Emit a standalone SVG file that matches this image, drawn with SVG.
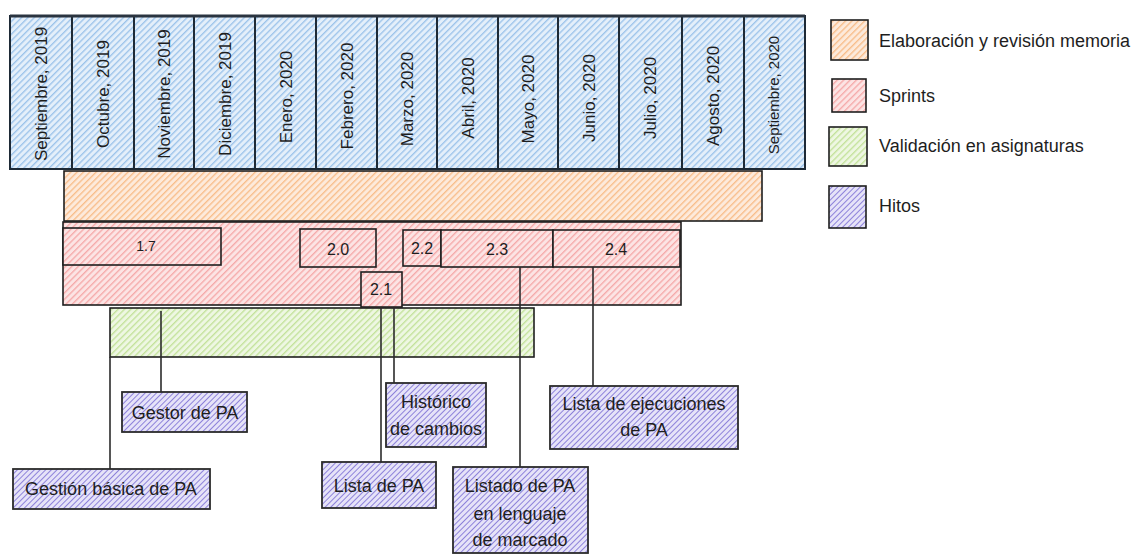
<svg xmlns="http://www.w3.org/2000/svg" width="1132" height="554" viewBox="0 0 1132 554">
  <defs>
    <!-- diagonal hachure fills, one per category, over a pale tint -->
    <pattern id="hBlue" patternUnits="userSpaceOnUse" width="4.5" height="4.5" patternTransform="rotate(45)">
      <rect width="4.5" height="4.5" fill="#e4effa"/>
      <line x1="0" y1="0" x2="0" y2="4.5" stroke="#9cc3ea" stroke-width="2.7"/>
    </pattern>
    <pattern id="hOrange" patternUnits="userSpaceOnUse" width="4.5" height="4.5" patternTransform="rotate(45)">
      <rect width="4.5" height="4.5" fill="#fdeadb"/>
      <line x1="0" y1="0" x2="0" y2="4.5" stroke="#f8bd8a" stroke-width="2.7"/>
    </pattern>
    <pattern id="hRed" patternUnits="userSpaceOnUse" width="4.5" height="4.5" patternTransform="rotate(45)">
      <rect width="4.5" height="4.5" fill="#fce4e4"/>
      <line x1="0" y1="0" x2="0" y2="4.5" stroke="#f5a9a9" stroke-width="2.7"/>
    </pattern>
    <pattern id="hGreen" patternUnits="userSpaceOnUse" width="4.5" height="4.5" patternTransform="rotate(45)">
      <rect width="4.5" height="4.5" fill="#eef7e2"/>
      <line x1="0" y1="0" x2="0" y2="4.5" stroke="#c3e29a" stroke-width="2.7"/>
    </pattern>
    <pattern id="hPurple" patternUnits="userSpaceOnUse" width="4" height="4" patternTransform="rotate(45)">
      <rect width="4" height="4" fill="#e6e3f8"/>
      <line x1="0" y1="0" x2="0" y2="4" stroke="#8d82da" stroke-width="2"/>
    </pattern>
  </defs>
  <style>
    text { font-family: "Liberation Sans", Arial, sans-serif; fill: #1e1e1e; }
    .box { stroke: #1e1e1e; stroke-width: 1.6; }
    .month { fill: url(#hBlue); stroke: #1e2a36; stroke-width: 2; }
    .memoria { fill: url(#hOrange); }
    .sprint { fill: url(#hRed); }
    .valid { fill: url(#hGreen); }
    .hito { fill: url(#hPurple); stroke: #2b2b2b; stroke-width: 1.8; }
    .mtxt { font-size: 17px; text-anchor: middle; }
    .num { font-size: 16px; text-anchor: middle; }
    .lbl { font-size: 18px; text-anchor: middle; }
    .leg { font-size: 18px; }
    .conn { stroke: #2b2b2b; stroke-width: 1.6; fill: none; }
  </style>

  <rect width="1132" height="554" fill="#ffffff"/>

  <!-- month columns -->
  <g id="months">
    <g id="m-sep19"><rect class="month" x="10" y="16" width="62" height="153"/><text class="mtxt" transform="translate(47,94) rotate(-90)">Septiembre, 2019</text></g>
    <g id="m-oct19"><rect class="month" x="72" y="16" width="62" height="153"/><text class="mtxt" transform="translate(109,94) rotate(-90)">Octubre, 2019</text></g>
    <g id="m-nov19"><rect class="month" x="134" y="16" width="60" height="153"/><text class="mtxt" transform="translate(170,94) rotate(-90)">Noviembre, 2019</text></g>
    <g id="m-dic19"><rect class="month" x="194" y="16" width="61" height="153"/><text class="mtxt" transform="translate(231,94) rotate(-90)">Diciembre, 2019</text></g>
    <g id="m-ene20"><rect class="month" x="255" y="16" width="61" height="153"/><text class="mtxt" transform="translate(292,97) rotate(-90)">Enero, 2020</text></g>
    <g id="m-feb20"><rect class="month" x="316" y="16" width="61" height="153"/><text class="mtxt" transform="translate(353,96) rotate(-90)">Febrero, 2020</text></g>
    <g id="m-mar20"><rect class="month" x="377" y="16" width="60" height="153"/><text class="mtxt" transform="translate(413,99) rotate(-90)">Marzo, 2020</text></g>
    <g id="m-abr20"><rect class="month" x="437" y="16" width="61" height="153"/><text class="mtxt" transform="translate(474,98) rotate(-90)">Abril, 2020</text></g>
    <g id="m-may20"><rect class="month" x="498" y="16" width="60" height="153"/><text class="mtxt" transform="translate(534,99) rotate(-90)">Mayo, 2020</text></g>
    <g id="m-jun20"><rect class="month" x="558" y="16" width="61" height="153"/><text class="mtxt" transform="translate(595,98) rotate(-90)">Junio, 2020</text></g>
    <g id="m-jul20"><rect class="month" x="619" y="16" width="63" height="153"/><text class="mtxt" transform="translate(656,98) rotate(-90)">Julio, 2020</text></g>
    <g id="m-ago20"><rect class="month" x="682" y="16" width="62" height="153"/><text class="mtxt" transform="translate(719,96) rotate(-90)">Agosto, 2020</text></g>
    <g id="m-sep20"><rect class="month" x="744" y="16" width="61" height="153"/><text class="mtxt" style="font-size:15px" transform="translate(779,95) rotate(-90)">Septiembre, 2020</text></g>
    <!-- heavier top edge across all columns -->
    <line x1="10" y1="16" x2="805" y2="16" stroke="#2a3440" stroke-width="3"/>
  </g>

  <!-- work bands -->
  <g id="memoria"><rect class="box memoria" x="64" y="171" width="698" height="50"/></g>
  <g id="sprints"><rect class="box sprint" x="63" y="222" width="618" height="83"/></g>
  <g id="validacion"><rect class="box valid" x="110" y="308" width="424" height="49"/></g>

  <!-- sprint versions -->
  <g id="s-17"><rect class="box sprint" x="63" y="228" width="158" height="37"/><text class="num" style="font-size:14px" x="146" y="251">1.7</text></g>
  <g id="s-20"><rect class="box sprint" x="300" y="229" width="76" height="38"/><text class="num" x="338" y="255">2.0</text></g>
  <g id="s-22"><rect class="box sprint" x="403" y="230" width="38" height="36"/><text class="num" x="422" y="254">2.2</text></g>
  <g id="s-23"><rect class="box sprint" x="441" y="230" width="112" height="37"/><text class="num" x="497" y="255">2.3</text></g>
  <g id="s-24"><rect class="box sprint" x="553" y="230" width="127" height="37"/><text class="num" x="616" y="255">2.4</text></g>
  <g id="s-21"><rect class="box sprint" x="361" y="272" width="41" height="35"/><text class="num" x="381" y="295">2.1</text></g>

  <!-- connectors from bands to milestones -->
  <g id="connectors">
    <line class="conn" x1="110" y1="357" x2="110" y2="469"/>
    <line class="conn" x1="161" y1="311" x2="161" y2="392"/>
    <line class="conn" x1="381" y1="307" x2="381" y2="462"/>
    <line class="conn" x1="394" y1="307" x2="394" y2="383"/>
    <line class="conn" x1="520" y1="267" x2="520" y2="467"/>
    <line class="conn" x1="593" y1="267" x2="593" y2="386"/>
  </g>

  <!-- milestones -->
  <g id="h-gestor"><rect class="hito" x="122" y="392" width="125" height="40"/><text class="lbl" x="185" y="419">Gestor de PA</text></g>
  <g id="h-gestion"><rect class="hito" x="13" y="469" width="197" height="40"/><text class="lbl" x="111" y="495">Gestión básica de PA</text></g>
  <g id="h-historico"><rect class="hito" x="386" y="383" width="100" height="64"/><text class="lbl" x="436" y="408">Histórico</text><text class="lbl" x="436" y="435">de cambios</text></g>
  <g id="h-lista"><rect class="hito" x="322" y="462" width="114" height="46"/><text class="lbl" x="379" y="492">Lista de PA</text></g>
  <g id="h-listado"><rect class="hito" x="453" y="467" width="135" height="86"/><text class="lbl" x="520" y="492">Listado de PA</text><text class="lbl" x="520" y="520">en lenguaje</text><text class="lbl" x="520" y="546">de marcado</text></g>
  <g id="h-ejecuciones"><rect class="hito" x="550" y="386" width="188" height="63"/><text class="lbl" x="644" y="410">Lista de ejecuciones</text><text class="lbl" x="644" y="436">de PA</text></g>

  <!-- legend -->
  <g id="legend">
    <g id="leg-memoria"><rect class="box memoria" x="831" y="20" width="37" height="40"/><text class="leg" x="879" y="47">Elaboración y revisión memoria</text></g>
    <g id="leg-sprints"><rect class="box sprint" x="832" y="79" width="34" height="33"/><text class="leg" x="879" y="102">Sprints</text></g>
    <g id="leg-validacion"><rect class="box valid" x="829" y="127" width="38" height="39"/><text class="leg" x="879" y="152">Validación en asignaturas</text></g>
    <g id="leg-hitos"><rect class="box" style="fill:url(#hPurple)" x="829" y="186" width="37" height="42"/><text class="leg" x="879" y="212">Hitos</text></g>
  </g>
</svg>
